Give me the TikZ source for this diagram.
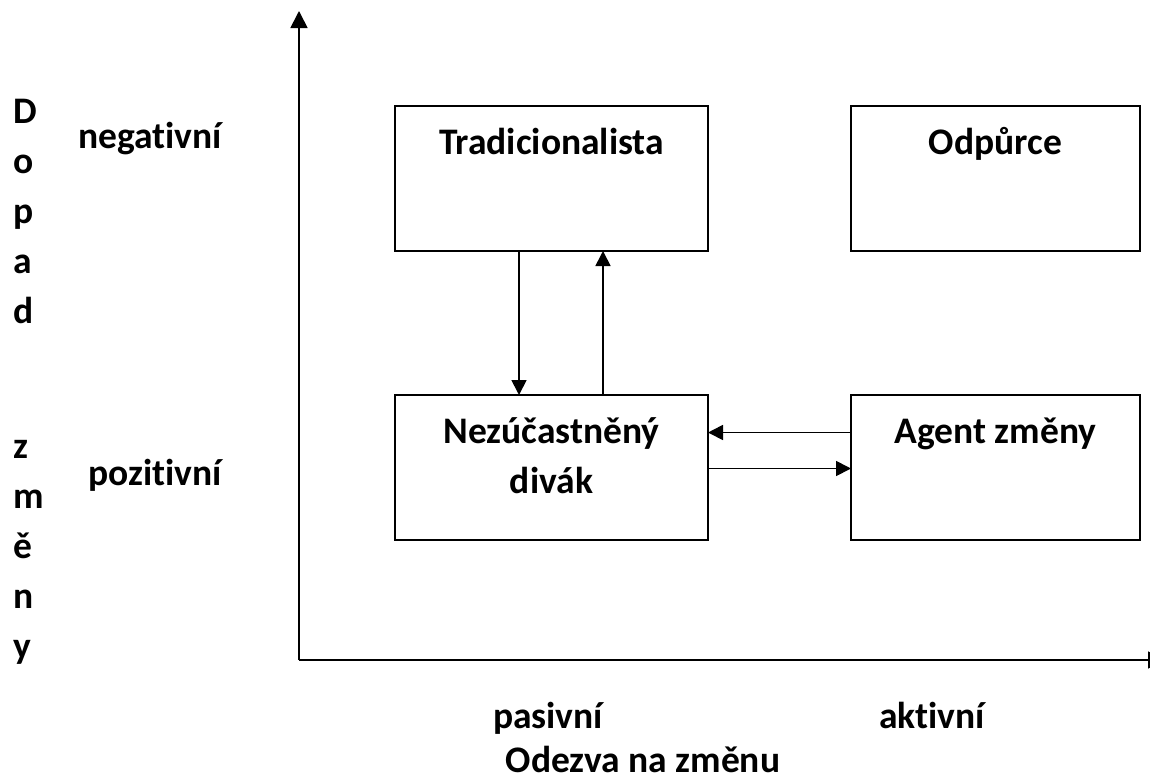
\documentclass[tikz,border=0pt]{standalone}
\usepackage{fontspec}
\setmainfont{Carlito}[Ligatures=NoCommon]
\usetikzlibrary{arrows.meta}
\begin{document}
\begin{tikzpicture}[x=1pt,y=-1pt,
  every node/.style={font=\fontsize{37.5}{45}\selectfont\bfseries, inner sep=0pt, outer sep=0pt},
  box/.style={draw, line width=1.7pt, minimum width=313pt, minimum height=145pt, anchor=north west},
  lbl/.style={anchor=base},
  arr/.style={line width=1.7pt, -{Triangle[length=15pt,width=15pt]}},
  axis/.style={line width=1.7pt, -{Triangle[length=17pt,width=17pt]}}]
\useasboundingbox (0,0) rectangle (1150,780);
\clip (0,0) rectangle (1150,780);
% axes
\coordinate (O) at (299,660);
\coordinate (Ytop) at (299,11);
\coordinate (Xend) at (1165,660);
\draw[axis] (O) -- (Ytop);
\draw[axis] (O) -- (Xend);
% boxes
\node[box] (trad) at (395,106) {};
\node[box, minimum width=289pt] (odp) at (851,106) {};
\node[box] (nez) at (395,395) {};
\node[box, minimum width=289pt] (agent) at (851,395) {};
% box texts
\node[lbl] (tradt) at ([yshift=-48pt]trad.north) {Tradicionalista};
\node[lbl] (odpt) at ([yshift=-48pt]odp.north) {Odpůrce};
\node[lbl] (nezt1) at ([yshift=-48pt]nez.north) {Nezúčastněný};
\node[lbl] (nezt2) at ([yshift=-98pt]nez.north) {divák};
\node[lbl] (agentt) at ([yshift=-48pt]agent.north) {Agent změny};
% connectors
\draw[arr] ([xshift=-32.5pt]trad.south) -- ([xshift=-32.5pt]nez.north);
\draw[arr] ([xshift=51.5pt]nez.north) -- ([xshift=51.5pt]trad.south);
\draw[arr] ([yshift=35pt]agent.west) -- ([yshift=35pt]nez.east);
\draw[arr] ([yshift=-1pt]nez.east) -- ([yshift=-1pt]agent.west);
% axis labels
\node[anchor=base east] (neg) at (222,148) {negativní};
\node[anchor=base east] (poz) at (222,485) {pozitivní};
\node[lbl] (pas) at (548,728) {pasivní};
\node[lbl] (akt) at (932,728) {aktivní};
\node[lbl] (odz) at (643,772) {Odezva na změnu};
% vertical label
\foreach \ch/\yy [count=\i] in {D/123,o/173,p/223,a/273,d/323,z/458,m/508,ě/558,n/608,y/658}
  \node[anchor=base west] (v\i) at (13,\yy) {\ch};
\end{tikzpicture}
\end{document}
